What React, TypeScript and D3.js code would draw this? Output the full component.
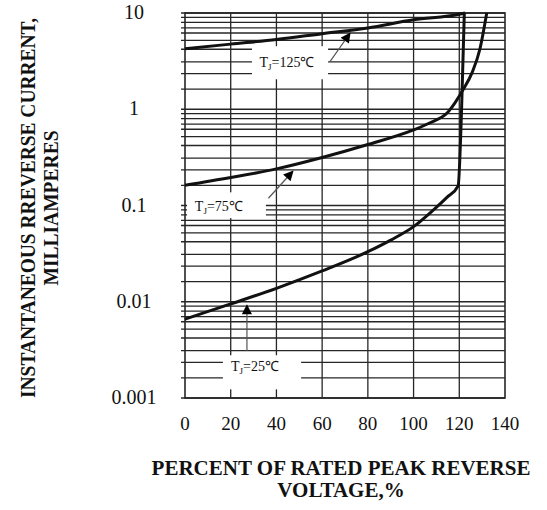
import React from 'react';
import * as d3 from 'd3';

// ---- data ----
const xTicks = [0, 20, 40, 60, 80, 100, 120, 140];
const yTicks = [0.001, 0.01, 0.1, 1, 10];
const yTickLabels = ['0.001', '0.01', '0.1', '1', '10'];
const decades = [0.001, 0.01, 0.1, 1];
const gridMantissas = [9, 8, 7, 6.2, 5.2, 4.2, 3.1, 2.35, 1.62];

const pct125 = [0, 20, 40, 60, 80, 100, 120, 122.5];
const cur125 = [4.25, 4.75, 5.3, 6.1, 7.0, 8.5, 9.7, 10];
const pct75 = [0, 20, 40, 60, 80, 100, 107, 115, 121.7, 125.6, 129, 132];
const cur75 = [0.162, 0.195, 0.24, 0.315, 0.43, 0.61, 0.72, 0.93, 1.6, 2.4, 4.2, 10];
const pct25 = [0, 20, 40, 60, 80, 90, 100, 108.5, 114.6, 119.5, 121, 122.2];
const cur25 = [0.0066, 0.0095, 0.0138, 0.0209, 0.0331, 0.0437, 0.0603, 0.0891, 0.1216, 0.16, 1, 10];

const labelTemps = ['125℃', '75℃', '25℃'];
const labelPct = [44.6, 14.8, 30.6];
const labelCur = [3.1, 0.1, 0.00214];
const boxPct = [[29.3, 62.6], [0.9, 35.4], [16.6, 50.8]];
const boxCur = [[4.52, 2.05], [0.137, 0.074], [0.00278, 0.00123]];
const arrowFromPct = [63.5, 36.5, 27.1];
const arrowFromCur = [3.15, 0.119, 0.0031];
const arrowToPct = [72.2, 47.2, 27.1];
const arrowToCur = [6.16, 0.227, 0.0092];

const W = 547;
const H = 510;
const left = 185, right = 505, top = 13, bottom = 398;

export default function App() {
  const x = d3.scaleLinear().domain([0, 140]).range([left, right]);
  const y = d3.scaleLog().domain([0.001, 10]).range([bottom, top]);

  const line = d3
    .line<[number, number]>()
    .x((d) => x(d[0]))
    .y((d) => y(d[1]))
    .curve(d3.curveMonotoneX);

  const series = [
    pct125.map((p, i) => [p, cur125[i]] as [number, number]),
    pct75.map((p, i) => [p, cur75[i]] as [number, number]),
    pct25.map((p, i) => [p, cur25[i]] as [number, number]),
  ];

  const hGrid: number[] = [];
  decades.forEach((d) => {
    hGrid.push(d);
    gridMantissas.forEach((m) => hGrid.push(d * m));
  });
  hGrid.push(10);

  const font = '"Liberation Serif", "Times New Roman", serif';
  const gridColor = '#262626';

  return (
    <svg
      width={W}
      height={H}
      style={{ position: 'absolute', left: 0, top: 0, background: '#fff' }}
      fontFamily={font}
    >
      <defs>
        <marker
          id="ah"
          viewBox="0 0 10 10"
          refX="9"
          refY="5"
          markerWidth="11"
          markerHeight="10"
          markerUnits="userSpaceOnUse"
          orient="auto"
        >
          <path d="M0,0 L10,5 L0,10 z" fill="#000" />
        </marker>
      </defs>
      <rect x={0} y={0} width={W} height={H} fill="#fff" />

      {/* horizontal grid */}
      {hGrid.map((v, i) => (
        <line
          key={'h' + i}
          x1={left - 4}
          x2={right}
          y1={y(v)}
          y2={y(v)}
          stroke={gridColor}
          strokeWidth={1.3}
        />
      ))}
      {/* vertical grid */}
      {xTicks.slice(1, -1).map((v) => (
        <line
          key={'v' + v}
          x1={x(v)}
          x2={x(v)}
          y1={top}
          y2={bottom}
          stroke={gridColor}
          strokeWidth={1.3}
        />
      ))}

      {/* label boxes */}
      {boxPct.map((b, i) => (
        <rect
          key={'b' + i}
          x={x(b[0])}
          y={y(boxCur[i][0])}
          width={x(b[1]) - x(b[0])}
          height={y(boxCur[i][1]) - y(boxCur[i][0])}
          fill="#fff"
        />
      ))}

      {/* frame */}
      <rect
        x={left}
        y={top}
        width={right - left}
        height={bottom - top}
        fill="none"
        stroke={gridColor}
        strokeWidth={1.6}
      />

      {/* curves */}
      {series.map((s, i) => (
        <path key={'s' + i} d={line(s) || ''} fill="none" stroke="#111" strokeWidth={3} />
      ))}

      {/* labels */}
      {labelTemps.map((t, i) => (
        <text
          key={'l' + i}
          x={x(labelPct[i])}
          y={y(labelCur[i]) + 5}
          textAnchor="middle"
          fontSize={14}
          fill="#111"
        >
          <tspan>T</tspan>
          <tspan dy={3} fontSize={9}>J</tspan>
          <tspan dy={-3}>={t}</tspan>
        </text>
      ))}

      {/* arrows */}
      {arrowFromPct.map((p, i) => (
        <line
          key={'a' + i}
          x1={x(p)}
          y1={y(arrowFromCur[i])}
          x2={x(arrowToPct[i])}
          y2={y(arrowToCur[i])}
          stroke="#555"
          strokeWidth={1.2}
          markerEnd="url(#ah)"
        />
      ))}

      {/* y tick labels */}
      {yTicks.map((v, i) => (
        <text
          key={'yt' + i}
          x={134}
          y={y(v) + 6}
          textAnchor="middle"
          fontSize={20}
          fill="#111"
        >
          {yTickLabels[i]}
        </text>
      ))}

      {/* x tick labels */}
      {xTicks.map((v) => (
        <text
          key={'xt' + v}
          x={x(v)}
          y={430}
          textAnchor="middle"
          fontSize={19}
          fill="#111"
        >
          {v}
        </text>
      ))}

      {/* y title */}
      <g transform="translate(0,208) rotate(-90)">
        <text
          textAnchor="middle"
          y={35}
          fontSize={20}
          fontWeight="bold"
          fill="#111"
          textLength={380}
          lengthAdjust="spacingAndGlyphs"
        >
          INSTANTANEOUS RREVERSE CURRENT,
        </text>
        <text
          textAnchor="middle"
          y={58}
          fontSize={20}
          fontWeight="bold"
          fill="#111"
          textLength={155}
          lengthAdjust="spacingAndGlyphs"
        >
          MILLIAMPERES
        </text>
      </g>

      {/* x title */}
      <text x={341} y={475} textAnchor="middle" fontSize={21} fontWeight="bold" fill="#111">
        PERCENT OF RATED PEAK REVERSE
      </text>
      <text x={341} y={497} textAnchor="middle" fontSize={21} fontWeight="bold" fill="#111">
        VOLTAGE,%
      </text>
    </svg>
  );
}
